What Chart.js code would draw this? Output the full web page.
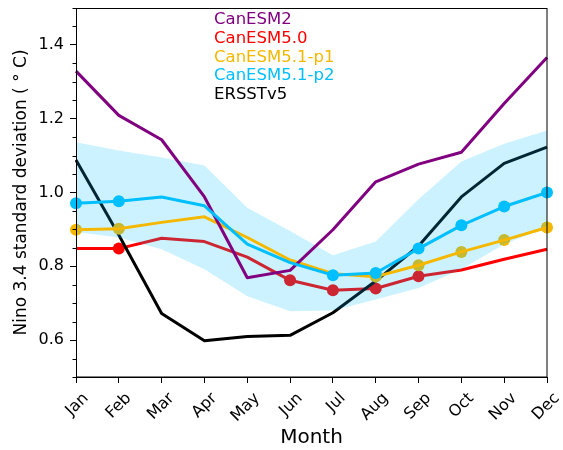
<!DOCTYPE html>
<html>
<head>
<meta charset="utf-8">
<script src="https://cdn.jsdelivr.net/npm/chart.js@4/dist/chart.umd.min.js"></script>
<style>
  html, body { margin:0; padding:0; background:#fff; }
</style>
</head>
<body>
<canvas id="chart" width="563" height="450"></canvas>
<script>
// data
const months = ["Jan","Feb","Mar","Apr","May","Jun","Jul","Aug","Sep","Oct","Nov","Dec"];
const canesm2  = [1.329, 1.209, 1.143, 0.988, 0.769, 0.789, 0.899, 1.029, 1.077, 1.109, 1.241, 1.366];
const canesm50 = [0.848, 0.848, 0.876, 0.867, 0.825, 0.762, 0.735, 0.740, 0.773, 0.790, 0.819, 0.846];
const canesmP1 = [0.899, 0.902, 0.919, 0.934, 0.878, 0.817, 0.780, 0.772, 0.803, 0.839, 0.871, 0.905];
const canesmP2 = [0.971, 0.976, 0.988, 0.964, 0.860, 0.810, 0.776, 0.782, 0.848, 0.911, 0.962, 1.000];
const ersst    = [1.088, 0.885, 0.672, 0.598, 0.610, 0.613, 0.674, 0.760, 0.855, 0.988, 1.079, 1.123];
const bandUpper = [1.136, 1.114, 1.095, 1.073, 0.959, 0.896, 0.830, 0.867, 0.982, 1.084, 1.132, 1.168];
const bandLower = [0.893, 0.878, 0.846, 0.792, 0.719, 0.678, 0.680, 0.710, 0.741, 0.792, 0.860, 0.905];

// months marked with a dot
const dots50 = [0,1,0,0,0,1,1,1,1,0,0,0];
const dotsP1 = [1,1,0,0,0,0,0,1,1,1,1,1];
const dotsP2 = [1,1,0,0,0,0,1,1,1,1,1,1];

const yTicks = [0.6, 0.8, 1.0, 1.2, 1.4];

const names  = ["CanESM2", "CanESM5.0", "CanESM5.1-p1", "CanESM5.1-p2", "ERSSTv5"];
const colors = ["#800080", "#ff0000", "#f5b800", "#00bfff", "#000000"];

Chart.defaults.font.family = "'DejaVu Sans', sans-serif";
Chart.defaults.color = "#000";

function lineSet(label, data, color, order, dots) {
  return {
    label: label,
    data: data,
    borderColor: color,
    backgroundColor: color,
    borderWidth: 3,
    borderJoinStyle: "round",
    pointRadius: dots ? dots.map(d => d ? 6 : 0) : 0,
    pointBorderWidth: 0,
    pointBackgroundColor: color,
    tension: 0,
    fill: false,
    order: order
  };
}

// frame, minor ticks and the coloured text legend
const extras = {
  id: "extras",
  afterDraw(chart) {
    const ctx = chart.ctx;
    const a = chart.chartArea;
    const y = chart.scales.y;
    ctx.save();
    ctx.strokeStyle = "#000";
    ctx.lineWidth = 1;
    ctx.strokeRect(a.left + 0.5, a.top + 0.5, a.right - a.left - 0.5, a.bottom - a.top - 0.5);
    ctx.beginPath();
    for (let i = 10; i <= 30; i++) {
      if (i % 4 === 0) continue;
      const py = Math.round(y.getPixelForValue(i * 0.05)) + 0.5;
      ctx.moveTo(a.left - 3.5, py);
      ctx.lineTo(a.left, py);
    }
    ctx.stroke();

    ctx.font = "16.5px 'DejaVu Sans', sans-serif";
    ctx.textBaseline = "middle";
    ctx.textAlign = "left";
    names.forEach((n, i) => {
      ctx.fillStyle = colors[i];
      ctx.fillText(n, a.left + 138, a.top + 12 + i * 18.7);
    });
    ctx.restore();
  }
};

new Chart(document.getElementById("chart"), {
  type: "line",
  data: {
    labels: months,
    datasets: [
      lineSet(names[3], canesmP2, colors[3], 1, dotsP2),
      lineSet(names[0], canesm2, colors[0], 2),
      lineSet(names[2], canesmP1, colors[2], 3),
      {
        label: "upper",
        data: bandUpper,
        borderWidth: 0,
        pointRadius: 0,
        backgroundColor: "rgba(0,191,255,0.2)",
        fill: "+1",
        order: 4
      },
      {
        label: "lower",
        data: bandLower,
        borderWidth: 0,
        pointRadius: 0,
        fill: false,
        order: 4
      },
      Object.assign(lineSet(names[2] + " dots", canesmP1, colors[2], 5, dotsP1), { showLine: false }),
      lineSet(names[4], ersst, colors[4], 6),
      lineSet(names[1], canesm50, colors[1], 7, dots50)
    ]
  },
  options: {
    responsive: false,
    animation: false,
    layout: { padding: { top: 8, right: 16, left: 0, bottom: 0 } },
    plugins: {
      legend: { display: false },
      tooltip: { enabled: false }
    },
    scales: {
      x: {
        offset: false,
        afterFit: s => { s.height = 73; s.paddingLeft = 0; s.paddingRight = 0; },
        grid: { offset: false, drawOnChartArea: false, drawTicks: true, tickLength: 6, color: "#000" },
        border: { display: true, color: "#000", width: 1 },
        ticks: { autoSkip: false, maxRotation: 45, minRotation: 45, padding: 6, labelOffset: 10,
                 font: { size: 16 }, color: "#000" },
        title: { display: true, text: "Month", font: { size: 20 }, padding: { top: 0, bottom: 0 } }
      },
      y: {
        min: 0.5,
        max: 1.5,
        afterFit: s => { s.width = 76; s.paddingTop = 0; s.paddingBottom = 0; },
        afterBuildTicks: s => { s.ticks = yTicks.map(v => ({ value: v })); },
        grid: { drawOnChartArea: false, drawTicks: true, tickLength: 6, color: "#000" },
        border: { display: true, color: "#000", width: 1 },
        ticks: { padding: 6, font: { size: 16 }, color: "#000", callback: v => Number(v).toFixed(1) },
        title: { display: true, text: "Nino 3.4 standard deviation ( \u00B0 C)", font: { size: 17 }, padding: { top: 11, bottom: 0 } }
      }
    }
  },
  plugins: [extras]
});
</script>
</body>
</html>
